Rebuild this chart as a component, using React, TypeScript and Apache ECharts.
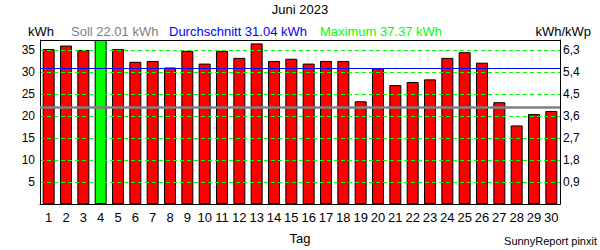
import React, { useEffect, useRef } from "react";
import * as echarts from "echarts";

const title = "Juni 2023";
const days = ["1","2","3","4","5","6","7","8","9","10","11","12","13","14","15","16","17","18","19","20","21","22","23","24","25","26","27","28","29","30"];
const energyKWh = [35.3, 36.1, 35.1, 37.37, 35.3, 32.4, 32.6, 31.1, 34.9, 32.0, 34.9, 33.3, 36.6, 32.6, 33.1, 32.0, 32.6, 32.6, 23.4, 30.9, 27.1, 27.8, 28.4, 33.3, 34.6, 32.2, 23.2, 17.9, 20.5, 21.2];
const sollKWh = 22.01;
const averageKWh = 31.04;
const maximumKWh = 37.37;
const plantKWp = 35 / 6.3;
const leftUnit = "kWh";
const rightUnit = "kWh/kWp";
const xName = "Tag";
const footer = "SunnyReport pinxit";

const FONT = "'Liberation Sans', Arial, sans-serif";

export default function App() {
  const ref = useRef<HTMLDivElement>(null);
  useEffect(() => {
    if (!ref.current) return;
    const chart = echarts.init(ref.current, undefined, { renderer: "svg" });
    const data = energyKWh.map((v) => ({
      value: v,
      itemStyle: v === maximumKWh ? { color: "#00ff00" } : undefined,
    }));
    chart.setOption({
      animation: false,
      textStyle: { fontFamily: FONT },
      grid: { left: 40, right: 40, top: 40, bottom: 40, show: false },
      xAxis: {
        type: "category",
        data: days,
        z: 5,
        axisTick: { show: false },
        axisLine: { lineStyle: { color: "#000", width: 1 } },
        axisLabel: { color: "#000", fontSize: 13, margin: 7, interval: 0, fontFamily: FONT },
        name: xName,
        nameLocation: "middle",
        nameGap: 28,
        nameTextStyle: { color: "#000", fontSize: 13, fontFamily: FONT },
      },
      yAxis: [
        {
          type: "value", min: 0, max: maximumKWh, interval: 5, z: 3,
          axisLine: { show: true, lineStyle: { color: "#000" } },
          axisTick: { show: false },
          axisLabel: { color: "#000", fontSize: 12, margin: 5, showMinLabel: false, showMaxLabel: false, fontFamily: FONT },
          splitLine: { show: true, showMinLine: false, showMaxLine: false, lineStyle: { color: "#00ff00", type: [4, 3], width: 1 } },
        },
        {
          type: "value", min: 0, max: maximumKWh / plantKWp, interval: 0.9, position: "right",
          axisLine: { show: true, lineStyle: { color: "#000" } },
          axisTick: { show: false },
          axisLabel: {
            color: "#000", fontSize: 12, margin: 3, showMinLabel: false, showMaxLabel: false, fontFamily: FONT,
            formatter: (v: number) => v.toFixed(1).replace(".", ","),
          },
          splitLine: { show: false },
        },
      ],
      series: [
        {
          type: "bar",
          data,
          barWidth: 12,
          itemStyle: { color: "#ff0000", borderColor: "#000", borderWidth: 1 },
          markLine: {
            silent: true,
            symbol: ["none", "none"],
            label: { show: false },
            data: [
              { yAxis: averageKWh, lineStyle: { color: "#0000ff", width: 1, type: "solid" } },
              { yAxis: sollKWh, lineStyle: { color: "#808080", width: 2.5, type: "solid" } },
            ],
          },
        },
      ],
      graphic: [
        { type: "line", z: 10, shape: { x1: 40, y1: 40.5, x2: 560.5, y2: 40.5 }, style: { stroke: "#000", lineWidth: 1 } },
        { type: "text", left: "center", top: 3, style: { text: title, fontSize: 13, fill: "#000", fontFamily: FONT } },
        { type: "text", x: 28, y: 31, style: { text: leftUnit, fontSize: 13, fill: "#000", fontFamily: FONT, verticalAlign: "middle" } },
        { type: "text", x: 71, y: 31, style: { text: `Soll ${sollKWh.toFixed(2)} kWh`, fontSize: 13, fill: "#808080", fontFamily: FONT, verticalAlign: "middle" } },
        { type: "text", x: 169, y: 31, style: { text: `Durchschnitt ${averageKWh.toFixed(2)} kWh`, fontSize: 13, fill: "#0000ff", fontFamily: FONT, verticalAlign: "middle" } },
        { type: "text", x: 320, y: 31, style: { text: `Maximum ${maximumKWh.toFixed(2)} kWh`, fontSize: 13, fill: "#00ff00", fontFamily: FONT, verticalAlign: "middle" } },
        { type: "text", x: 591, y: 31, style: { text: rightUnit, fontSize: 13, fill: "#000", fontFamily: FONT, verticalAlign: "middle", align: "right" } },
        { type: "text", x: 597, y: 241, style: { text: footer, fontSize: 11, fill: "#000", fontFamily: FONT, verticalAlign: "middle", align: "right" } },
      ],
    });
    return () => chart.dispose();
  }, []);
  return <div ref={ref} style={{ position: "fixed", left: 0, top: 0, width: 600, height: 250, background: "#fff" }} />;
}
